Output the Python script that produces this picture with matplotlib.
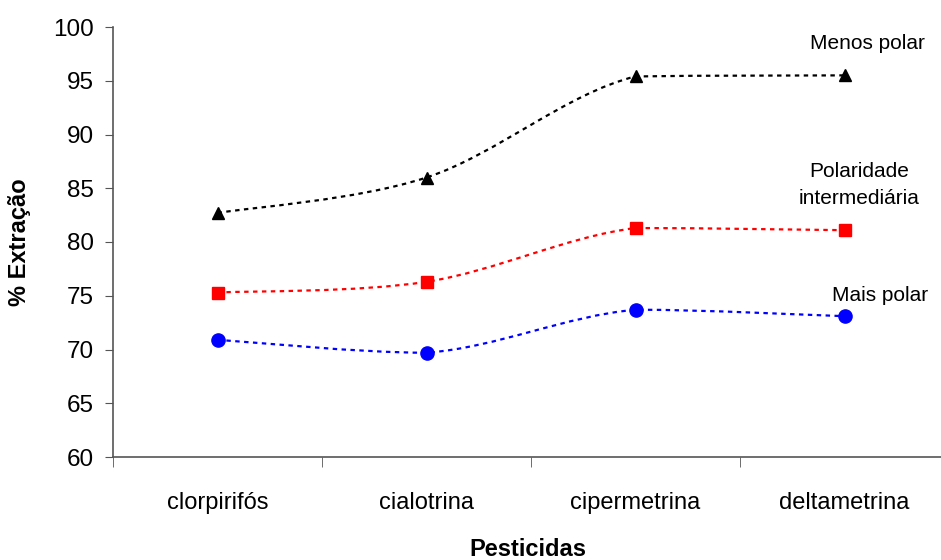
import matplotlib
matplotlib.use("Agg")
import matplotlib.pyplot as plt
from matplotlib.path import Path
from matplotlib.patches import PathPatch

plt.rcParams["font.family"] = ["Liberation Sans", "DejaVu Sans"]

pesticidas = ["clorpirifós", "cialotrina", "cipermetrina", "deltametrina"]
menos_polar = [82.7, 86.0, 95.4, 95.5]
intermediaria = [75.3, 76.3, 81.3, 81.1]
mais_polar = [70.9, 69.7, 73.7, 73.1]

series_labels = ["Menos polar", "Polaridade\nintermediária", "Mais polar"]
label_pos = [(3.11, 98.5), (3.07, 85.3), (3.17, 75.0)]


def smooth_path(xs, ys, k=6):
    # excel style smoothed line, bezier through each point, no overshoot
    pts = list(zip(xs, ys))
    verts = [pts[0]]
    codes = [Path.MOVETO]
    n = len(pts)
    for i in range(n - 1):
        p0 = pts[i - 1] if i > 0 else pts[i]
        p1 = pts[i]
        p2 = pts[i + 1]
        p3 = pts[i + 2] if i + 2 < n else pts[i + 1]
        lo, hi = min(p1[1], p2[1]), max(p1[1], p2[1])
        c1y = min(max(p1[1] + (p2[1] - p0[1]) / k, lo), hi)
        c2y = min(max(p2[1] - (p3[1] - p1[1]) / k, lo), hi)
        c1 = (p1[0] + (p2[0] - p0[0]) / k, c1y)
        c2 = (p2[0] - (p3[0] - p1[0]) / k, c2y)
        verts += [c1, c2, p2]
        codes += [Path.CURVE4] * 3
    return Path(verts, codes)


fig = plt.figure(figsize=(9.41, 5.6), dpi=100)
ax = fig.add_axes([113 / 941, 103 / 560, 836 / 941, 430 / 560])

x = list(range(len(pesticidas)))
styles = [
    (menos_polar, "black", "^"),
    (intermediaria, "#ff0000", "s"),
    (mais_polar, "#0000ff", "o"),
]
for vals, color, marker in styles:
    patch = PathPatch(smooth_path(x, vals), facecolor="none", edgecolor=color,
                      lw=1.6, linestyle=(0, (2, 2)))
    ax.add_patch(patch)
    ax.plot(x, vals, linestyle="none", marker=marker, color=color,
            markersize=9 if marker != "o" else 9.5, zorder=3)

for text, (tx, ty) in zip(series_labels, label_pos):
    ax.text(tx, ty, text, ha="center", va="center", fontsize=15,
            linespacing=1.5)

ax.set_xlim(-0.5, 3.5)
ax.set_ylim(60, 100)
ax.set_yticks(range(60, 101, 5))
ax.set_xticks(x)
ax.set_xticklabels(pesticidas)
ax.set_xticks([-0.5, 0.5, 1.5, 2.5], minor=True)
ax.tick_params(axis="x", which="major", length=0, pad=25, labelsize=17)
ax.tick_params(axis="x", which="minor", length=7, color="#555555")
ax.tick_params(axis="y", length=6, pad=8, labelsize=17.5, color="#555555")

for side in ["top", "right"]:
    ax.spines[side].set_visible(False)
for side in ["left", "bottom"]:
    ax.spines[side].set_color("#555555")
    ax.spines[side].set_linewidth(1.2)

fig.text(528 / 941, 4 / 560, "Pesticidas", ha="center", va="baseline",
         fontsize=17, fontweight="bold")
ax.set_ylabel("% Extração", fontsize=17, fontweight="bold", labelpad=16)

fig.savefig("out.png", dpi=100)
